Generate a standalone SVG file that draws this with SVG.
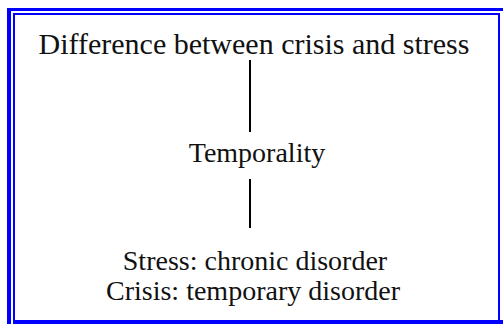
<svg xmlns="http://www.w3.org/2000/svg" width="503" height="324" viewBox="0 0 503 324">
<style>
text{font-family:"Liberation Serif","Times New Roman",serif;fill:#111;text-anchor:middle}
.b{fill:#0000ff}
.c{stroke:#000;stroke-width:2;fill:none}
</style>
<rect width="503" height="324" fill="#fff"/>
<g id="frame">
<rect class="b" x="7" y="8" width="496" height="3"/>
<rect class="b" x="7" y="8" width="4" height="316"/>
<rect class="b" x="13" y="13" width="487" height="2"/>
<rect class="b" x="13" y="13" width="2" height="307"/>
<rect class="b" x="498" y="13" width="2" height="307"/>
<rect class="b" x="13" y="320" width="490" height="4"/>
</g>
<g id="connectors">
<line class="c" x1="250" y1="60" x2="250" y2="132"/>
<line class="c" x1="250" y1="179" x2="250" y2="228"/>
</g>
<g id="title"><text x="254" y="54" font-size="30">Difference between crisis and stress</text></g>
<g id="temporality"><text x="257" y="162" font-size="28">Temporality</text></g>
<g id="result"><text x="255" y="270" font-size="28">Stress: chronic disorder</text><text x="253" y="300" font-size="28">Crisis: temporary disorder</text></g>
</svg>
